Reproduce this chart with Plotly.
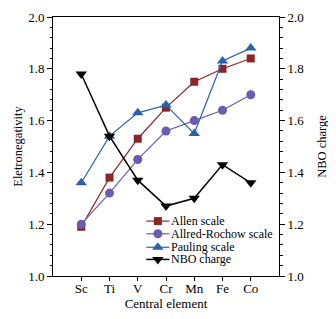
import plotly.graph_objects as go

elements = ["Sc", "Ti", "V", "Cr", "Mn", "Fe", "Co"]
allen = [1.19, 1.38, 1.53, 1.65, 1.75, 1.80, 1.84]
allred = [1.20, 1.32, 1.45, 1.56, 1.60, 1.64, 1.70]
pauling = [1.36, 1.54, 1.63, 1.66, 1.55, 1.83, 1.88]
nbo = [1.78, 1.54, 1.37, 1.27, 1.30, 1.43, 1.36]

series_names = ["Allen scale", "Allred-Rochow scale", "Pauling scale", "NBO charge"]
series_values = [allen, allred, pauling, nbo]
series_colors = ["#8b2528", "#6a5cb0", "#2a62ad", "#000000"]
series_symbols = ["square", "circle", "triangle-up", "triangle-down"]
series_sizes = [8, 9, 10, 10]
series_axes = ["y", "y", "y", "y2"]

FONT = "'Liberation Serif', 'Times New Roman', 'DejaVu Serif', serif"
fig = go.Figure()
for name, vals, col, sym, sz, ax in zip(series_names, series_values, series_colors,
                                        series_symbols, series_sizes, series_axes):
    fig.add_trace(go.Scatter(x=elements, y=vals, name=name, mode="lines+markers", yaxis=ax,
                             line=dict(color=col, width=1.5 if ax == "y2" else 1.2),
                             marker=dict(symbol=sym, size=sz, color=col), showlegend=False))

# compact legend drawn on a hidden overlay axis (0..1 in plot-area fractions)
leg_x0, leg_x1, leg_xm, leg_xt = 0.413, 0.515, 0.464, 0.527
leg_y = [0.212, 0.163, 0.111, 0.064]
for name, col, sym, sz, ly in zip(series_names, series_colors, series_symbols, series_sizes, leg_y):
    fig.add_trace(go.Scatter(x=[leg_x0, leg_x1], y=[ly, ly], mode="lines", xaxis="x2", yaxis="y3",
                             line=dict(color=col, width=1.5 if col == "#000000" else 1.2),
                             showlegend=False, hoverinfo="skip"))
    fig.add_trace(go.Scatter(x=[leg_xm], y=[ly], mode="markers", xaxis="x2", yaxis="y3",
                             marker=dict(symbol=sym, size=sz, color=col),
                             showlegend=False, hoverinfo="skip"))
    fig.add_annotation(x=leg_xt, y=ly, xref="x2", yref="y3", text=name, showarrow=False,
                       xanchor="left", yanchor="middle", xshift=-2, borderpad=0,
                       font=dict(family=FONT, size=12, color="black"))

axis_common = dict(showgrid=False, zeroline=False, showline=True, linecolor="black", linewidth=1,
                   automargin=False, tickfont=dict(family=FONT, size=13, color="black"))

fig.update_layout(
    width=328, height=311,
    margin=dict(l=45, r=57, t=9, b=43),
    paper_bgcolor="white", plot_bgcolor="white",
    font=dict(family=FONT, size=12, color="black"),
    showlegend=False,
    xaxis=dict(**axis_common, type="category", range=[-1, 7], mirror=True,
               ticks="outside", ticklen=4, tickcolor="black", ticklabelstandoff=-4,
               title=dict(text="Central element", font=dict(family=FONT, size=13), standoff=0)),
    xaxis2=dict(range=[0, 1], overlaying="x", visible=False, fixedrange=True),
    yaxis=dict(**axis_common, range=[1.0, 2.0], dtick=0.2, tickformat=".1f",
               ticks="outside", ticklen=5, tickcolor="black",
               minor=dict(dtick=0.04, ticks="outside", ticklen=2.5, tickcolor="black"),
               title=dict(text="Eletronegativity", font=dict(family=FONT, size=12.5), standoff=2)),
    yaxis2=dict(**axis_common, range=[1.0, 2.0], dtick=0.2, tickformat=".1f", overlaying="y", side="right",
                ticks="outside", ticklen=5, tickcolor="black",
                minor=dict(dtick=0.04, ticks="outside", ticklen=2.5, tickcolor="black"),
                title=dict(text="NBO charge", font=dict(family=FONT, size=12.5), standoff=13)),
    yaxis3=dict(range=[0, 1], overlaying="y", visible=False, fixedrange=True),
)
fig.write_html("out.html")
